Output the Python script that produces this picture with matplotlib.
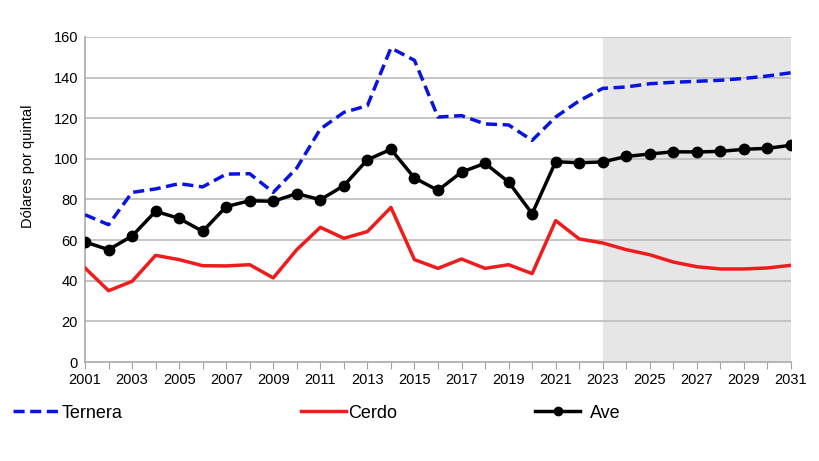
import matplotlib
matplotlib.use("Agg")
import matplotlib.pyplot as plt
import numpy as np

plt.rcParams['font.family'] = ['Liberation Sans', 'DejaVu Sans']

years = list(range(2001, 2032))
ternera = [72.5, 67.6, 83.5, 85.2, 87.8, 86.2, 92.5, 92.7, 83.5, 95.5, 114.7, 122.9,
           126.2, 154.6, 148.5, 120.6, 121.3, 117.2, 116.7, 109.1, 120.6, 128.6, 134.7,
           135.4, 137.0, 137.7, 138.2, 138.7, 139.6, 140.8, 142.4]
cerdo = [46.3, 35.1, 39.7, 52.5, 50.4, 47.4, 47.3, 47.9, 41.4, 55.3, 66.3, 60.9,
         64.2, 76.1, 50.4, 46.1, 50.7, 46.1, 47.9, 43.5, 69.6, 60.6, 58.6,
         55.3, 52.8, 49.2, 46.9, 45.8, 45.8, 46.3, 47.6]
ave = [59.1, 55.3, 62.0, 74.2, 70.7, 64.3, 76.5, 79.4, 79.1, 82.9, 79.9, 86.8,
       99.6, 104.7, 90.6, 84.5, 93.5, 97.8, 88.6, 73.0, 98.6, 98.1, 98.5,
       101.2, 102.4, 103.5, 103.4, 103.7, 104.7, 105.2, 106.7]
forecast_start = 2023
yticks = [0, 20, 40, 60, 80, 100, 120, 140, 160]
xtick_labels = list(range(2001, 2032, 2))

fig = plt.figure(figsize=(8.2, 4.61), dpi=100)
ax = fig.add_axes([85/820, 1-362/461, (791-85)/820, (362-37)/461])

ax.axvspan(forecast_start, years[-1], color='#e6e6e6', zorder=0, lw=0)
for t in yticks[1:]:
    ax.axhline(t, color='#c0c0c0', lw=1.3, zorder=1)

l1, = ax.plot(years, ternera, color='#0a14e0', lw=2.5, ls=(0, (3.2, 1.6)), zorder=3)
l2, = ax.plot(years, cerdo, color='#ee1c1c', lw=2.5, zorder=3)
l3, = ax.plot(years, ave, color='black', lw=2.5, marker='o', ms=7.5, zorder=4)

ax.set_xlim(2001, 2031)
ax.set_ylim(0, 160)
ax.set_yticks(yticks)
ax.set_xticks(years, minor=False)
ax.set_xticklabels([str(y) if y in xtick_labels else '' for y in years])
ax.tick_params(axis='x', length=5, color='#a0a0a0', labelsize=10.5, pad=3)
ax.tick_params(axis='y', length=0, labelsize=10.5, pad=5)
for s in ['top', 'right']:
    ax.spines[s].set_visible(False)
for s in ['left', 'bottom']:
    ax.spines[s].set_color('#b0b0b0')
    ax.spines[s].set_linewidth(1.3)
ax.set_ylabel('Dólares por quintal', fontsize=10.5)
ax.yaxis.set_label_coords(-(85 - 35) / 706, (362 - 166) / 325)

fs = 13
for h, lab, xpos, tp, ms in [(l1, 'Ternera', 13/820, 0.2, None),
                             (l2, 'Cerdo', 301/820, 0.1, None),
                             (l3, 'Ave', 535/820, 0.55, 6)]:
    leg = fig.legend([h], [lab], loc='center left', bbox_to_anchor=(xpos, 1-413/461),
                     frameon=False, borderpad=0, borderaxespad=0, handlelength=2.5,
                     handletextpad=tp, fontsize=fs)
    if ms:
        for lh in leg.legend_handles:
            lh.set_markersize(ms)

fig.savefig('out.png', dpi=100)
